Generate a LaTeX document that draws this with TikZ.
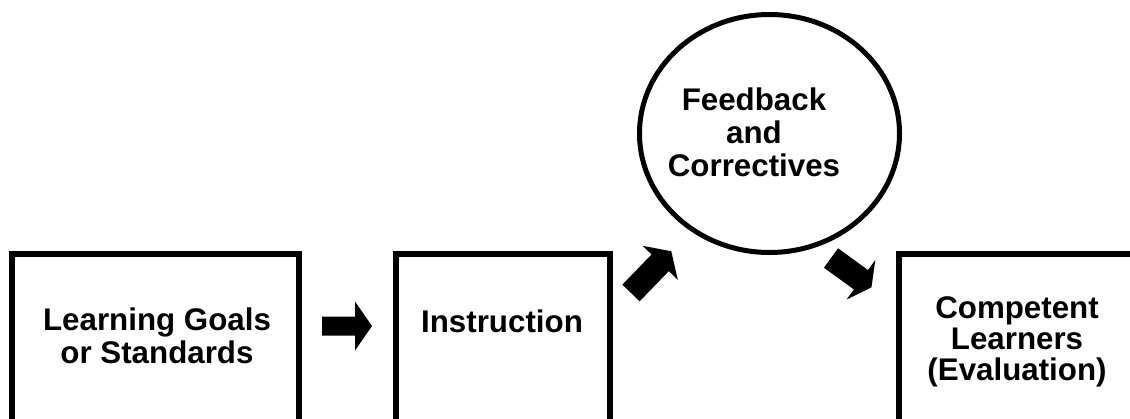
\documentclass[tikz,border=0pt]{standalone}
\usepackage{fontspec}
\setmainfont{Liberation Sans}
\usetikzlibrary{shapes.geometric}
\newcommand\myblockarr[5]{% start, angle, total length, head length, shaft half width
  \fill[shift={(#1)}, rotate=#2] (0,-#5) -- ({#3-#4},-#5) -- ({#3-#4},-24.5) -- (#3,0) -- ({#3-#4},24.5) -- ({#3-#4},#5) -- (0,#5) -- cycle;}
\begin{document}
\begin{tikzpicture}[x=1pt,y=-1pt,
  box/.style={draw, line width=6pt, rectangle, inner sep=0pt, outer sep=0pt, anchor=north west},
  lbl/.style={font=\fontsize{31.3}{33}\selectfont\bfseries, align=center, inner sep=0pt},
  fbshape/.style={draw, line width=5pt, ellipse, inner sep=0pt, outer sep=0pt}]
\useasboundingbox (0,0) rectangle (1130,418);
\clip (0,0) rectangle (1130,418);
\fill[white] (0,0) rectangle (1130,418);
% boxes
\node[box, minimum width=287pt, minimum height=200pt] (goals) at (11.5,253.5) {};
\node[box, minimum width=214pt, minimum height=200pt] (instr) at (396,253.5) {};
\node[box, minimum width=260pt, minimum height=200pt] (comp) at (899,253.5) {};
% ellipse
\node[fbshape, minimum width=260pt, minimum height=238pt] (fb) at (769.5,133.5) {};
% texts
\node[lbl] (tgoals) at (157,336) {Learning Goals\\or Standards};
\node[lbl] (tinstr) at (502,321.5) {Instruction};
\node[lbl, font=\fontsize{31.3}{31}\selectfont\bfseries] (tcomp) at (1017,342) {Competent\\Learners\\(Evaluation)};
\node[lbl] (tfb) at (754,132.5) {Feedback\\and\\Correctives};
% block arrows
\coordinate (arrA) at (322,326);
\coordinate (arrB) at (631,293);
\coordinate (arrC) at (831,258);
\myblockarr{arrA}{0}{50}{17}{9.5}
\myblockarr{arrB}{46}{58}{16}{12}
\myblockarr{arrC}{-36}{50}{13}{12}
\end{tikzpicture}
\end{document}
